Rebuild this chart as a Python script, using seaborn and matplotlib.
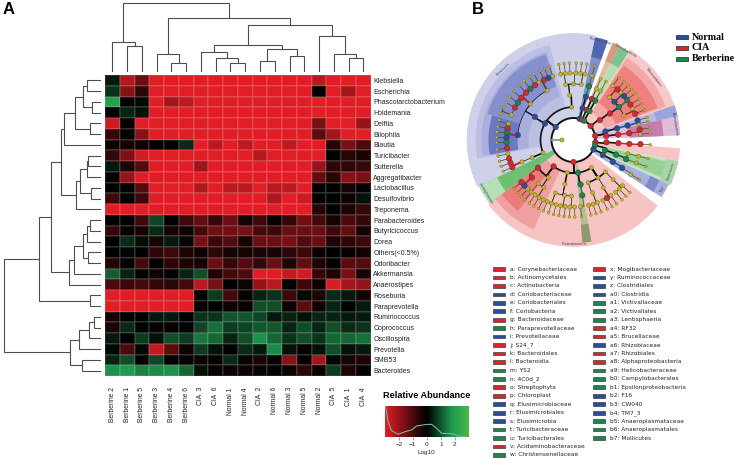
import numpy as np
import pandas as pd
import seaborn as sns
import matplotlib.pyplot as plt
from matplotlib.colors import LinearSegmentedColormap

W, H = 736, 459

# Panel A data
samples = ["Berberine 2", "Berberine 1", "Berberine 5", "Berberine 3", "Berberine 4", "Berberine 6",
           "CIA  3", "CIA  6", "Normal 1", "Normal 4", "CIA  2", "Normal 6",
           "Normal 3", "Normal 5", "Normal 2", "CIA  5", "CIA  1", "CIA  4"]
genera = ["Klebsiella", "Escherichia", "Phascolarctobacterium", "Holdemania", "Delftia", "Bilophila",
          "Blautia", "Turicibacter", "Sutterella", "Aggregatibacter", "Lactobacillus", "Desulfovibrio",
          "Treponema", "Parabacteroides", "Butyricicoccus", "Dorea", "Others(<0.5%)", "Odoribacter",
          "Akkermansia", "Anaerostipes", "Roseburia", "Paraprevotella", "Ruminococcus", "Coprococcus",
          "Oscillospira", "Prevotella", "SMB53", "Bacteroides"]
R = -3
abundance = [
    [0.3, -2.4, -1.4, R, R, R, R, R, R, R, R, R, R, R, -2.5, R, R, R],
    [0.6, -1.8, -0.6, R, R, R, R, R, R, R, R, R, R, R, 0, R, -2.2, R],
    [2.0, 0, 0.1, R, -2.2, -2.5, R, R, R, R, R, R, R, R, R, R, R, R],
    [0, 0.4, 0.2, R, R, R, R, R, R, R, R, R, R, R, R, R, R, R],
    [-2.7, -0.1, R, R, R, R, R, R, R, R, R, R, R, R, -1.6, R, R, -2.0],
    [-0.7, 0, -1.8, R, R, R, R, R, R, R, R, R, R, R, -1.2, -2.2, R, R],
    [-0.2, -0.3, -0.2, 0, 0, 0.5, R, -2.5, R, -2.5, R, R, -2.5, R, R, -0.5, -1.6, -1.0],
    [-0.7, -1.7, -2.8, R, R, R, R, R, R, R, -2.4, R, R, R, R, 0, -0.5, -0.3],
    [0.3, -0.4, -1.1, R, R, R, -2.1, R, R, R, R, R, R, R, -2.0, -0.6, -0.6, -0.7],
    [-0.1, -2.0, R, R, R, R, R, R, R, R, R, R, R, R, -1.3, -0.5, -1.8, -1.6],
    [0, 0, -1.1, R, R, R, -2.3, R, -2.5, -2.5, R, -2.5, -2.5, R, 0, 0, -0.3, 0],
    [-0.8, 0, -0.8, R, R, R, R, R, R, R, R, -2.3, R, -2.7, 0, 0, -0.2, 0.2],
    [R, R, R, R, R, R, R, R, R, R, R, R, R, R, -0.5, 0, -0.4, -0.7],
    [0, 0, -0.8, 0.8, 0, -0.8, -1.3, -0.7, -1.4, -0.3, -0.8, -0.1, -0.7, -1.5, -0.9, -0.3, -1.0, -0.7],
    [-0.7, -0.1, -0.3, 0.5, -0.3, -0.2, -0.9, -1.5, -1.5, -1.6, -0.9, -0.8, -1.4, -1.4, -1.4, -0.8, -1.3, -0.3],
    [0, 0.5, 0.15, -0.3, 0.3, 0.1, -1.6, -0.8, -1.1, -0.3, -1.4, -1.4, -1.6, -1.1, -1.4, -0.4, -0.6, -0.8],
    [0, 0.05, 0, -0.6, -0.8, -0.4, -0.2, -0.6, -0.3, -0.3, -0.4, -0.3, -0.6, -0.8, -0.1, 0, -0.1, -0.2],
    [-0.5, -0.05, -0.9, -0.05, -0.6, -0.4, -0.3, -1.4, -0.7, -1.1, -0.7, -1.4, -0.4, -1.3, -0.4, 0, -1.2, -1.1],
    [1.1, 0.4, 0, -0.2, 0, 0.4, 0.9, -0.4, -0.9, -1.0, R, R, -2.6, -2.8, -0.7, -0.4, -1.6, -0.3],
    [-1.0, -0.8, -0.9, -0.7, -0.6, -0.9, -2.5, -1.6, 0, -0.2, -2.0, -2.5, 0, -0.8, -0.2, -2.9, -2.2, -2.0],
    [R, R, R, R, R, R, 0, 0.7, -0.9, -0.1, 0.4, 0.6, -0.8, 0.1, -0.4, 0.5, 0.3, -0.3],
    [R, R, R, R, R, R, 0, 0, -0.2, -0.1, 0.9, 0.9, -0.2, -1.2, -0.2, 0.4, 0, 0.3],
    [-0.3, 0, 0, 0.3, 0.3, 0, 0.6, 0.6, 1.0, 1.0, 0.8, 0.3, 0.4, 0.2, 0.4, 0.4, 0.3, 0.3],
    [-0.4, 0.5, 0, -0.1, -0.1, 0, 0.8, 1.3, 0.7, 0.8, 1.0, 1.0, 0.4, 0.9, 0.4, 0.9, 0.5, 0.6],
    [0.3, 0, 0.7, 0.2, 0.9, 0.7, 1.4, 1.2, 0.4, 0.9, 1.7, 1.2, 0.6, 0.9, 0.6, 1.2, 1.2, 1.3],
    [0.1, -1.0, 0.1, -2.6, -1.2, -0.2, 0.7, 0.2, 0, 0.5, 0.3, 1.6, 0.2, -0.1, 0.2, 0.9, 0.2, 0.3],
    [0.4, 0.9, 0, 0.8, 0, -0.05, -0.2, -0.05, 0.5, -0.1, -0.4, -0.05, -1.8, -0.05, -2.2, 0, -0.3, -0.4],
    [1.7, 1.8, 1.5, 1.6, 1.7, 1.2, 0.2, -0.1, -0.2, -0.2, 0.1, 0, -0.2, -0.6, -0.1, 0.7, -0.4, 0],
]

# merge heights and members, as (height, left, right), leaves are row/column numbers
col_tree = (69.3, (30, 0, (26.3, 1, 2)),
            (54.3, (18, 3, (9, 4, 5)),
             (47.3, (27, (20.3, 6, (14.3, 7, (9.3, 8, 9))), (23, (11, 10, 11), (16, 12, 13))),
              (36, 14, (18, 15, (14, 16, 17))))))
row_tree = (97,
            (61.7,
             (50.3,
              (40.3,
               (36.7, (25.7, (18.3, (14, 0, 1), (9, 2, 3)), (11, 4, 5)), 6),
               (25, (21, (14.3, (12.7, 7, 8), 9), (10, 10, 11)), 12)),
              (31.7, (27, (18.3, (13.7, (11, 13, 14), 15), (12.7, 16, 17)), 18), 19)),
             (11, 20, 21)),
            (31, (21.7, (11.7, (6.7, 22, 23), 24), 25), (19, 26, 27)))

density_x = [-2.95, -2.78, -2.54, -2.06, -1.58, -1.1, -0.73, -0.01, 0.35, 0.71, 1.07, 1.55, 1.92, 2.28, 2.76]
density_y = [0.98, 0.49, 0.2, 0.08, 0.16, 0.22, 0.35, 0.4, 0.4, 0.27, 0.11, 0.1, 0.09, 0.02, 0]
key_ticks = [-2, -1, 0, 1, 2]

# Panel B data
# start angle, end angle, inner radius, outer radius, colour
sector_start = [78, 104, 107, 108, 163, 71, 71, 19, 20, 21, 64, 64, 58, 58, 13, 2.5, 2.5, 13, -11.5,
                -25, -23, -25, -33, -33, 217, 217, 217, 206, 206, 275, 275]
sector_end = [206, 191, 190, 163, 190, 78, 78, 58, 57, 56, 68, 68, 64, 64, 19, 13, 13, 19, -4.5,
              -11.5, -13, -11.5, -25, -25, 322, 246, 232, 217, 217, 280, 280]
sector_in = [22, 33, 45, 56, 56, 22, 85, 22, 33, 45, 22, 85, 22, 85, 22, 22, 56, 85, 22,
             22, 33, 95, 22, 85, 22, 33, 45, 22, 85, 22, 85]
sector_out = [107, 98, 92, 90, 85, 105, 105, 107, 98, 90, 105, 105, 104, 104, 107, 107, 90, 107, 107,
              107, 95, 107, 105, 95, 107, 98, 90, 105, 105, 103, 103]
sector_col = ["#cfd0ea", "#bcbfe3", "#a9aedc", "#8690cf", "#6b79c2", "#7f8fca", "#4f66b0",
              "#f8c9c9", "#f4a7a7", "#ee8080", "#e3bba6", "#d99a80", "#b5deb0", "#7cc48a",
              "#b4bbe2", "#e0bcd6", "#c47fb0", "#9aa4dc", "#f8c4c4",
              "#c3e4c0", "#98d09a", "#a5d8a5", "#a9afdc", "#7f8bc9",
              "#f7c4c4", "#f0a0a0", "#ea7c7c", "#6fbf73", "#b5e0b5", "#b5bf96", "#8f9a6c"]

sector_names = ["Elusimicrobia", "Cyanobacteria", "Bacteroidetes", "Actinobacteria", "Tenericutes", "TM7",
                "Proteobacteria", "Firmicutes", "Lentisphaerae"]
name_angle = [75, 60, 38, 9, -18, -29, 270, 135, 211]
name_radius = [103, 103, 102, 103, 103, 102, 104, 100, 103]
name_rot = [-15, -30, -52, -81, 72, 61, 0, 45, -59]

# (colour, angle, children); a bare number is a small yellow leaf
clades = [
    ("b", 144, [
        ("b", 150, [("b", 149, [
            ("b", 175, [("y", 166, [165]), ("r", 170, [170]), ("g", 174, [174]),
                        ("b", 178, [178]), ("g", 182, [182]), ("r", 187, [187])]),
            ("y", 140, [("y", 158, [155, 160]), ("r", 151, [151]), ("g", 146, [146]),
                        ("r", 141, [141]), ("r", 135, [135]), ("g", 130, [130]),
                        ("r", 125, [125])]),
            ("y", 118, [("y", 121, [121]), ("r", 116, [116]), ("b", 112, [112]),
                        ("y", 108, [108])]),
        ])]),
        ("y", 203, [("y", 203, [("y", 203, [("y", 192, [192]), ("r", 196, [196]),
                                            ("r", 200, [200]), ("r", 204, [204])])])]),
        ("y", 93, [("y", 95, [("y", 98, [("y", 101, [101]), ("y", 97, [97])]),
                              ("y", 90, [("y", 93, [93]), ("y", 88, [88])]),
                              ("y", 82, [("y", 84, [84]), ("y", 80, [80])])])]),
    ]),
    ("b", 74, [("b", 74, [("b", 74, [("g", 74, [("y", 74, [74])])])])]),
    ("r", 67, [("r", 66, [("r", 66, [("y", 66, [66])])])]),
    ("g", 61, [("g", 61, [("g", 61, [("y", 61, [61])])])]),
    ("r", 39, [("r", 37, [("r", 36, [
        ("y", 26, [("r", 23, [23]), ("y", 28, [28])]),
        ("g", 36, [("r", 32, [32]), ("g", 37, [37])]),
        ("b", 43, [("b", 41, [41]), ("y", 45, [45])]),
        ("y", 50, [("r", 49, [49]), ("y", 54, [54])]),
    ])])]),
    ("r", 11, [("b", 15, [("b", 15, [("b", 15, [("y", 14, [14]), ("b", 17, [17])])])]),
               ("r", 7, [("r", 7, [("r", 7, [("y", 5, [5]), ("r", 9, [9])])])])]),
    ("r", -6, [("r", -4, [("r", -4, [("r", -4, [("r", -3.5, [-3.5])])])])]),
    ("g", -14, [("g", -18, [("g", -19, [("g", -20, [("y", -20, [-20])]),
                                        ("y", -14, [("y", -14, [-14])])])])]),
    ("b", -25, [("b", -27, [("b", -29, [("b", -30, [("y", -31, [-31])])])])]),
    ("r", 270, [
        ("r", 233, [("r", 218, [("r", 222, [("b", 223, [223]), ("y", 227, [227]), ("r", 219, [219])])]),
                    ("y", 236, [("y", 231, [("y", 231, [231])]),
                                ("y", 238, [("y", 235, [235]), ("y", 239, [239]), ("y", 243, [243])])])]),
        ("y", 259, [("y", 259, [("y", 251, [("y", 247, [247]), ("y", 251, [251]), ("y", 255, [255])]),
                                ("y", 261, [("y", 259, [259]), ("y", 263, [263])]),
                                ("y", 268, [("y", 267, [267]), ("y", 271, [271])])])]),
        ("g", 278, [("g", 279, [("g", 279, [("y", 276, [276])])])]),
        ("y", 303, [("y", 289, [("y", 290, [("y", 283, [283]), ("y", 287, [287]), ("y", 291, [291])])]),
                    ("y", 303, [("y", 302, [("y", 296, [296]), ("r", 300, [300]), ("y", 304, [304])])]),
                    ("y", 315, [("y", 315, [("y", 309, [309]), ("y", 313, [313]), ("y", 317, [317])])])]),
    ]),
]
level_radius = [22, 33, 45, 56, 67, 77]
root_radius = 11.5

legend_left = ["a: Corynebacteriaceae", "b: Actinomycetales", "c: Actinobacteria", "d: Coriobacteriaceae",
               "e: Coriobacteriales", "f: Coriobacteria", "g: Bacteroidaceae", "h: Paraprevotellaceae",
               "i: Prevotellaceae", "j: S24_7", "k: Bacteroidales", "l: Bacteroidia", "m: YS2", "n: 4C0d_2",
               "o: Streptophyta", "p: Chloroplast", "q: Elusimicrobiaceae", "r: Elusimicrobiales",
               "s: Elusimicrobia", "t: Turicibacteraceae", "u: Turicibacterales", "v: Acidaminobacteraceae",
               "w: Christensenellaceae"]
legend_left_col = list("rrrbbbrgbrrrggrrbbbggrg")
legend_right = ["x: Mogibacteriaceae", "y: Ruminococcaceae", "z: Clostridiales", "a0: Clostridia",
                "a1: Victivallaceae", "a2: Victivallales", "a3: Lentisphaeria", "a4: RF32", "a5: Brucellaceae",
                "a6: Rhizobiaceae", "a7: Rhizobiales", "a8: Alphaproteobacteria", "a9: Helicobacteraceae",
                "b0: Campylobacterales", "b1: Epsilonproteobacteria", "b2: F16", "b3: CW040", "b4: TM7_3",
                "b5: Anaeroplasmataceae", "b6: Anaeroplasmatales", "b7: Mollicutes"]
legend_right_col = list("rbbbgggrrbrrgggbbbggg")
groups = ["Normal", "CIA", "Berberine"]
group_col = ["b", "r", "g"]

palette = {"r": "#d6262f", "b": "#27509b", "g": "#1e8449", "y": "#bdb52c"}

sns.set_theme(style="white")
plt.rcParams["font.family"] = ["Liberation Sans", "DejaVu Sans"]

fig = plt.figure(figsize=(W / 100, H / 100), dpi=100)


def px_axes(left, top, width, height, **kw):
    return fig.add_axes([left / W, 1 - (top + height) / H, width / W, height / H], **kw)


def draw_tree(ax, node, sideways=False):
    if not isinstance(node, tuple):
        return node + 0.5, 0
    h, a, b = node
    pa, ha = draw_tree(ax, a, sideways)
    pb, hb = draw_tree(ax, b, sideways)
    pos = [pa, pa, pb, pb]
    hts = [ha, h, h, hb]
    if sideways:
        ax.plot(hts, pos, color="#4d4d4d", lw=0.8, solid_joinstyle="miter")
    else:
        ax.plot(pos, hts, color="#4d4d4d", lw=0.8, solid_joinstyle="miter")
    return (pa + pb) / 2, h


# heatmap
rg = LinearSegmentedColormap.from_list("rg", [(0, "#e01e26"), (0.5, "#000000"), (0.8, "#1f9a50"), (1, "#4cb848")])
df = pd.DataFrame(abundance, index=genera, columns=samples)
ax = px_axes(105, 75, 265.7, 301)
sns.heatmap(df, ax=ax, cmap=rg, vmin=-3, vmax=3, cbar=False, linewidths=0.3, linecolor=(1, 1, 1, 0.1),
            xticklabels=True, yticklabels=True)
ax.yaxis.tick_right()
ax.tick_params(axis="both", length=0, pad=2)
ax.set_yticklabels(genera, rotation=0, fontsize=5, color="#222222")
ax.set_xticklabels(samples, rotation=90, fontsize=4.9, color="#222222")
ax.tick_params(axis="x", pad=8)
ax.set_xlabel("")
ax.set_ylabel("")

top_ax = px_axes(105, 0, 265.7, 72)
draw_tree(top_ax, col_tree)
top_ax.set_xlim(0, 18)
top_ax.set_ylim(0, 72)
top_ax.axis("off")

left_ax = px_axes(0, 75, 101, 301)
draw_tree(left_ax, row_tree, sideways=True)
left_ax.set_xlim(101, 0)
left_ax.set_ylim(28, 0)
left_ax.axis("off")

# colour key
key = px_axes(385, 406, 83.7, 30.7)
key.imshow(np.linspace(-3, 3, 256)[None, :], cmap=rg, vmin=-3, vmax=3, aspect="auto", extent=[-3, 3, 0, 1])
sns.lineplot(x=density_x, y=density_y, ax=key, color="#74b3ad", lw=0.8)
key.set_xlim(-3, 3)
key.set_ylim(0, 1)
key.set_yticks([])
key.set_xticks(key_ticks)
key.tick_params(axis="x", labelsize=4.6, length=2, width=0.4, pad=1.5, color="#555555", bottom=True)
key.set_xlabel("Log10", fontsize=4.6, labelpad=2.5, color="#222222")
for sp in key.spines.values():
    sp.set_visible(False)
fig.text(427 / W, 1 - 395 / H, "Relative Abundance", fontsize=6.6, fontweight="bold",
         ha="center", va="center", color="black")

# cladogram
pol = px_axes(466.5, 33, 214, 214, polar=True)
for a0, a1, r0, r1, c in zip(sector_start, sector_end, sector_in, sector_out, sector_col):
    pol.bar(np.radians((a0 + a1) / 2), r1 - r0, width=np.radians(a1 - a0), bottom=r0, color=c, lw=0)

rows = []


def draw_clade(node, level, parent_angle, parent_radius):
    # node = (colour, angle, children) or a bare angle for a leaf
    if not isinstance(node, tuple):
        node = ("y", node, [])
    c, ang, kids = node
    r = level_radius[level]
    rows.append({"theta": np.radians(ang), "r": r, "c": c, "small": not kids})
    strong = c != "y" and level >= 3
    line_col = palette[c] if strong else ("#111111" if level < 4 else "#4f4a14")
    line_w = 1.1 if strong else (1.2 if level < 3 else 0.5)
    pol.plot(np.radians([parent_angle, parent_angle]), [parent_radius, r], color=line_col, lw=line_w, zorder=3)
    th = np.radians(np.linspace(parent_angle, ang, 12))
    arc_col = "#111111" if level < 4 else "#4f4a14"
    pol.plot(th, [r] * 12, color=arc_col, lw=1.2 if level < 3 else 0.5, zorder=3)
    for kid in kids:
        draw_clade(kid, level + 1, ang, r)


pol.plot(np.radians(np.arange(0, 361, 2)), [level_radius[0]] * 181, color="#111111", lw=1.4, zorder=3)
pol.plot(np.radians([180, 180]), [root_radius, level_radius[0]], color="#a0a0a0", lw=1.5, zorder=3)
for clade in clades:
    draw_clade(clade, 0, clade[1], level_radius[0])
nodes = pd.DataFrame(rows)
nodes = pd.concat([nodes, pd.DataFrame([{"theta": np.pi, "r": root_radius, "c": "y", "small": False}])])
big = nodes[~nodes["small"] & (nodes["c"] != "y")]
mid = nodes[~nodes["small"] & (nodes["c"] == "y")]
tiny = nodes[nodes["small"]]
sns.scatterplot(data=tiny, x="theta", y="r", hue="c", palette=palette, s=4, linewidth=0.2,
                edgecolor="#55520f", legend=False, ax=pol, zorder=4)
sns.scatterplot(data=mid, x="theta", y="r", hue="c", palette=palette, s=9, linewidth=0.25,
                edgecolor="#55520f", legend=False, ax=pol, zorder=5)
sns.scatterplot(data=big, x="theta", y="r", hue="c", palette=palette, s=16, linewidth=0.3,
                edgecolor="#333333", legend=False, ax=pol, zorder=5)
for name, a, r, rot in zip(sector_names, name_angle, name_radius, name_rot):
    pol.text(np.radians(a), r, name, fontsize=2.8, rotation=rot, ha="center", va="center", color="#444466",
             rotation_mode="anchor")
pol.set_ylim(0, 107)
pol.set_xlabel("")
pol.set_ylabel("")
pol.axis("off")

# group legend
grp = px_axes(676, 31, 60, 34)
grp.barh(range(3), [12] * 3, height=0.42, color=[palette[c] for c in group_col], edgecolor="#222222", lw=0.5)
for i, g in enumerate(groups):
    grp.text(15.5, i, g, fontsize=7.2, fontweight="bold", family="Liberation Serif", va="center", color="black")
grp.set_xlim(0, 60)
grp.set_ylim(2.55, -0.55)
grp.axis("off")

# clade lists
for names, cols, left in [(legend_left, legend_left_col, 492.7), (legend_right, legend_right_col, 593)]:
    lax = px_axes(left, 264.8, 110, 8.45 * len(names))
    lax.barh(range(len(names)), [12.3] * len(names), height=0.44, color=[palette[c] for c in cols],
             edgecolor="#222222", lw=0.4)
    for i, n in enumerate(names):
        lax.text(17, i, n, fontsize=4.2, family="DejaVu Sans", va="center", color="#222222")
    lax.set_xlim(0, 110)
    lax.set_ylim(len(names) - 0.5, -0.5)
    lax.axis("off")

fig.text(3 / W, 1 - 9.5 / H, "A", fontsize=12, fontweight="bold", va="center", color="black")
fig.text(472 / W, 1 - 9.5 / H, "B", fontsize=12, fontweight="bold", va="center", color="black")

fig.savefig("out.png", dpi=100)
